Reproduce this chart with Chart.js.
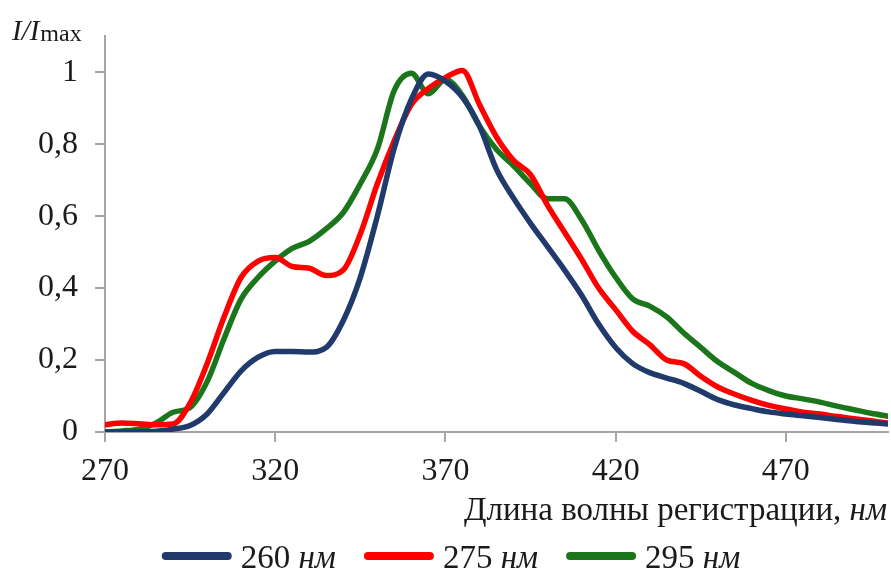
<!DOCTYPE html>
<html lang="ru">
<head>
  <meta charset="UTF-8" />
  <title>I/Imax — длина волны регистрации</title>
  <script src="https://cdn.jsdelivr.net/npm/chart.js"></script>
  <style>
    html, body { margin: 0; padding: 0; background: #fff; }
    #chart { display: block; }
  </style>
</head>
<body>
  <canvas id="chart" width="891" height="581"></canvas>
  <script>
    // wavelength, nm
    const wavelengths = [270, 275, 280, 285, 290, 295, 300, 305, 310, 315, 320, 325, 330, 335, 340, 345,
      350, 355, 360, 365, 370, 375, 380, 385, 390, 395, 400, 405, 410, 415, 420, 425, 430, 435, 440, 445,
      450, 455, 460, 465, 470, 475, 480, 485, 490, 495, 500];

    const series260 = [0, 0, 0, 0.002, 0.008, 0.018, 0.05, 0.11, 0.17, 0.208, 0.224, 0.224, 0.222, 0.235,
      0.31, 0.43, 0.6, 0.79, 0.925, 0.995, 0.975, 0.93, 0.85, 0.73, 0.65, 0.58, 0.515, 0.45, 0.38, 0.3,
      0.235, 0.19, 0.165, 0.15, 0.135, 0.113, 0.09, 0.075, 0.065, 0.056, 0.05, 0.045, 0.04, 0.035, 0.03,
      0.026, 0.022];

    const series275 = [0.02, 0.025, 0.023, 0.02, 0.022, 0.08, 0.19, 0.32, 0.43, 0.475, 0.485, 0.46, 0.455,
      0.435, 0.45, 0.55, 0.69, 0.81, 0.91, 0.955, 0.985, 1.005, 0.91, 0.82, 0.755, 0.715, 0.63, 0.555,
      0.48, 0.4, 0.34, 0.28, 0.243, 0.2, 0.19, 0.155, 0.125, 0.105, 0.088, 0.074, 0.064, 0.055, 0.05,
      0.043, 0.037, 0.031, 0.025];

    const series295 = [0, 0.003, 0.008, 0.025, 0.055, 0.068, 0.14, 0.26, 0.37, 0.43, 0.475, 0.51, 0.53,
      0.565, 0.61, 0.69, 0.786, 0.95, 0.997, 0.94, 0.98, 0.935, 0.85, 0.785, 0.74, 0.69, 0.648, 0.648,
      0.59, 0.505, 0.43, 0.37, 0.35, 0.32, 0.275, 0.235, 0.195, 0.165, 0.135, 0.115, 0.1, 0.092, 0.083,
      0.072, 0.062, 0.052, 0.044];

    const seriesLabels = ['260', '275', '295'];
    const seriesColors = ['#1f3a6b', '#ff0000', '#1b761b'];
    const xTicks = [270, 320, 370, 420, 470];
    const yTicks = [0, 0.2, 0.4, 0.6, 0.8, 1];

    const SERIF = '"Liberation Serif", "Times New Roman", serif';
    const AXIS_GRAY = '#a6a6a6';

    const toPoints = ys => wavelengths.map((x, i) => ({ x: x, y: ys[i] }));

    // titles and legend have italic parts, so they are drawn by hand
    const textPlugin = {
      id: 'texts',
      afterDraw(chart) {
        const ctx = chart.ctx;
        ctx.save();
        ctx.fillStyle = '#1a1a1a';
        ctx.textBaseline = 'alphabetic';

        // y title: I/I_max
        ctx.textAlign = 'left';
        ctx.font = 'italic 29px ' + SERIF;
        ctx.fillText('I/I', 12, 40);
        const w1 = ctx.measureText('I/I').width;
        ctx.font = '24px ' + SERIF;
        ctx.fillText('max', 12 + w1 + 1, 41);

        // x title, right aligned
        ctx.font = 'italic 33px ' + SERIF;
        const unitW = ctx.measureText('нм').width;
        ctx.fillText('нм', 887 - unitW, 520);
        ctx.font = '33px ' + SERIF;
        const mainW = ctx.measureText('Длина волны регистрации, ').width;
        ctx.fillText('Длина волны регистрации, ', 887 - unitW - mainW, 520);

        // legend
        const lineLen = 70, gapText = 9, gapItem = 28, yMid = 556;
        const items = chart.data.datasets.map((ds, i) => {
          ctx.font = '33px ' + SERIF;
          const a = ctx.measureText(seriesLabels[i] + ' ').width;
          ctx.font = 'italic 33px ' + SERIF;
          const b = ctx.measureText('нм').width;
          return { color: ds.borderColor, num: seriesLabels[i] + ' ', a: a, b: b, w: lineLen + gapText + a + b };
        });
        const total = items.reduce((s, it) => s + it.w, 0) + gapItem * (items.length - 1);
        let x = 451 - total / 2;
        items.forEach(it => {
          ctx.strokeStyle = it.color;
          ctx.lineWidth = 8;
          ctx.lineCap = 'round';
          ctx.beginPath();
          ctx.moveTo(x + 4, yMid);
          ctx.lineTo(x + lineLen - 4, yMid);
          ctx.stroke();
          const tx = x + lineLen + gapText;
          ctx.font = '33px ' + SERIF;
          ctx.fillText(it.num, tx, 568);
          ctx.font = 'italic 33px ' + SERIF;
          ctx.fillText('нм', tx + it.a, 568);
          x += it.w + gapItem;
        });
        ctx.restore();
      }
    };

    new Chart(document.getElementById('chart'), {
      type: 'line',
      data: {
        datasets: [series260, series275, series295].map((ys, i) => ({
          label: seriesLabels[i] + ' нм',
          data: toPoints(ys),
          borderColor: seriesColors[i],
          borderWidth: 5.5,
          pointRadius: 0,
          fill: false,
          cubicInterpolationMode: 'monotone',
          borderCapStyle: 'round',
          borderJoinStyle: 'round'
        }))
      },
      options: {
        responsive: false,
        animation: false,
        layout: { padding: { top: 31, right: 3, left: 0, bottom: 0 } },
        plugins: { legend: { display: false }, tooltip: { enabled: false } },
        scales: {
          x: {
            type: 'linear',
            min: 270,
            max: 500,
            afterBuildTicks: s => { s.ticks = xTicks.map(v => ({ value: v })); },
            afterFit: s => { s.height = 149; },
            ticks: {
              color: '#1a1a1a',
              font: { family: SERIF, size: 32 },
              padding: 10,
              maxRotation: 0,
              callback: v => String(v)
            },
            grid: { drawOnChartArea: false, drawTicks: true, tickLength: 10, color: AXIS_GRAY, lineWidth: 2 },
            border: { color: AXIS_GRAY, width: 2 }
          },
          y: {
            min: 0,
            max: 1.1,
            afterBuildTicks: s => { s.ticks = yTicks.map(v => ({ value: v })); },
            afterFit: s => { s.width = 105; },
            ticks: {
              color: '#1a1a1a',
              font: { family: SERIF, size: 32 },
              padding: 17,
              callback: v => (v === 0 || v === 1) ? String(v) : v.toFixed(1).replace('.', ',')
            },
            grid: { drawOnChartArea: false, drawTicks: true, tickLength: 10, color: AXIS_GRAY, lineWidth: 2 },
            border: { color: AXIS_GRAY, width: 2 }
          }
        }
      },
      plugins: [textPlugin]
    });
  </script>
</body>
</html>
